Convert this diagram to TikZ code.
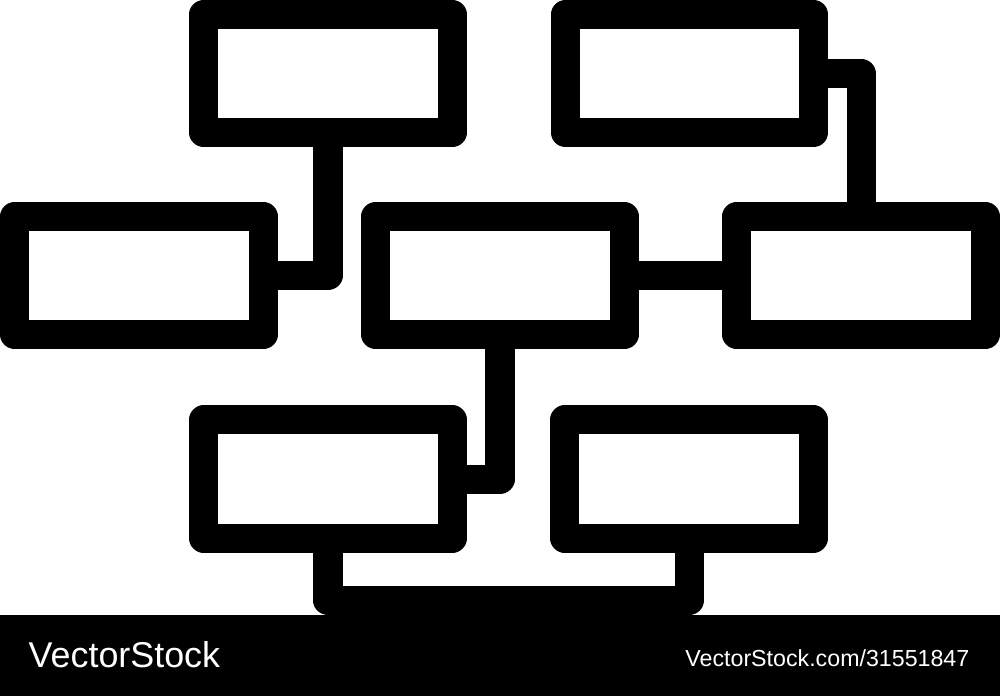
\documentclass[tikz,border=0pt]{standalone}
\usepackage{fontspec}
\setmainfont{Liberation Sans}
\begin{document}
\begin{tikzpicture}
[
x=0.01cm, y=-0.01cm,
Block/.style={rectangle, draw=black, fill=white, line width=2.9mm, line join=round, outer sep=0pt, inner sep=0pt, minimum width=24.8mm, minimum height=11.8mm},
Link/.style={-, draw=black, line width=2.9mm, line join=round},
Banner/.style={fill=black},
Mark/.style={text=white, inner sep=0pt}
]
\useasboundingbox (0,0) rectangle (1000,696);

\node[Block] (TopLeft)      at (328,73.5)  {};
\node[Block] (TopRight)     at (689.5,73.5) {};
\node[Block] (MidLeft)      at (139,275.5) {};
\node[Block] (MidCenter)    at (500,275.5) {};
\node[Block] (MidRight)     at (861,275.5) {};
\node[Block] (BottomLeft)   at (328,479)   {};
\node[Block] (BottomRight)  at (689,479)   {};

\coordinate (Bus) at (500,600.5);

\draw[Link] (TopLeft.south) |- (MidLeft.east);
\draw[Link] (TopRight.east) -| (MidRight.north);
\draw[Link] (MidCenter.east) -- (MidRight.west);
\draw[Link] (MidCenter.south) |- (BottomLeft.east);
\draw[Link] (BottomLeft.south) |- (Bus) -| (BottomRight.south);

\fill[Banner] (0,615) rectangle (1000,696);
\node[Mark, anchor=base west, font=\fontsize{10.2}{12}\selectfont] (StockName) at (28,667) {VectorStock};
\node[Mark, anchor=base east, font=\fontsize{6.6}{8}\selectfont] (StockLink) at (970,666) {VectorStock.com/31551847};
\end{tikzpicture}
\end{document}
